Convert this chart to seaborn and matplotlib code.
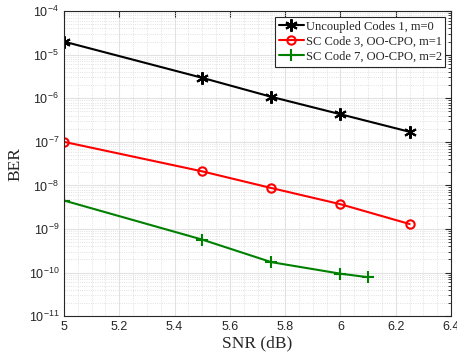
import numpy as np
import pandas as pd
import matplotlib
matplotlib.use("Agg")
import matplotlib.pyplot as plt
import seaborn as sns
from matplotlib.ticker import LogLocator, NullFormatter, FixedLocator

# 데이터
snr_uncoupled = [5.0, 5.5, 5.75, 6.0, 6.25]
ber_uncoupled = [2.0e-5, 2.95e-6, 1.08e-6, 4.3e-7, 1.7e-7]

snr_sc3 = [5.0, 5.5, 5.75, 6.0, 6.25]
ber_sc3 = [1.0e-7, 2.1e-8, 8.7e-9, 3.7e-9, 1.3e-9]

snr_sc7 = [5.0, 5.5, 5.75, 6.0, 6.1]
ber_sc7 = [4.5e-9, 5.7e-10, 1.73e-10, 9.4e-11, 7.8e-11]

labels = ['Uncoupled Codes 1, m=0', 'SC Code 3, OO-CPO, m=1', 'SC Code 7, OO-CPO, m=2']
colors = ['black', 'red', 'green']
x_ticks = [5, 5.2, 5.4, 5.6, 5.8, 6, 6.2, 6.4]
x_ticklabels = ['5', '5.2', '5.4', '5.6', '5.8', '6', '6.2', '6.4']

sns.set_style('white')
plt.rcParams['font.family'] = ['Liberation Sans', 'DejaVu Sans']

fig, ax = plt.subplots(figsize=(4.57, 3.6), dpi=100)
fig.subplots_adjust(left=0.14, right=0.987, top=0.969, bottom=0.122)

series = [(snr_uncoupled, ber_uncoupled), (snr_sc3, ber_sc3), (snr_sc7, ber_sc7)]
markers = [(6, 2, 0), 'o', '+']
msizes = [9, 6, 9]
for (x, y), lab, c, m, ms in zip(series, labels, colors, markers, msizes):
    df = pd.DataFrame({'SNR': x, 'BER': y})
    sns.lineplot(data=df, x='SNR', y='BER', ax=ax, color=c, linewidth=1.5,
                 marker=m, markersize=ms, markerfacecolor='none',
                 markeredgecolor=c, markeredgewidth=1.5, label=lab)

ax.set_yscale('log')
ax.set_xlim(5, 6.4)
ax.set_ylim(1e-11, 1e-4)
ax.xaxis.set_major_locator(FixedLocator(x_ticks))
ax.set_xticklabels(x_ticklabels)
ax.yaxis.set_major_locator(LogLocator(base=10, numticks=20))
ax.yaxis.set_minor_locator(LogLocator(base=10, subs=np.arange(2, 10), numticks=20))
ax.yaxis.set_minor_formatter(NullFormatter())
ax.xaxis.set_minor_locator(FixedLocator(np.arange(5, 6.41, 0.05)))

ax.grid(True, which='major', color='#e2e2e2', linewidth=0.8)
ax.grid(True, which='minor', color='#d8d8d8', linestyle=':', linewidth=0.6)

ax.tick_params(axis='both', which='both', direction='in', top=True, right=True,
               colors='#262626', labelsize=9)
ax.tick_params(axis='x', which='minor', length=0)
ax.tick_params(which='major', length=4)
ax.tick_params(axis='y', which='minor', length=2)
for s in ax.spines.values():
    s.set_color('#262626')
    s.set_linewidth(0.8)

ax.set_xlabel('SNR (dB)', fontsize=12.5, family=['Liberation Serif', 'DejaVu Serif'], labelpad=2)
ax.set_ylabel('BER', fontsize=12.5, family=['Liberation Serif', 'DejaVu Serif'])

leg = ax.legend(loc='upper right', prop={'family': 'Liberation Serif', 'size': 9},
                fancybox=False, framealpha=1, edgecolor='#262626',
                borderpad=0.3, labelspacing=0.25, handlelength=2.0,
                handletextpad=0.15, borderaxespad=0.45)
leg.get_frame().set_linewidth(0.8)

fig.savefig('out.png', dpi=100)
